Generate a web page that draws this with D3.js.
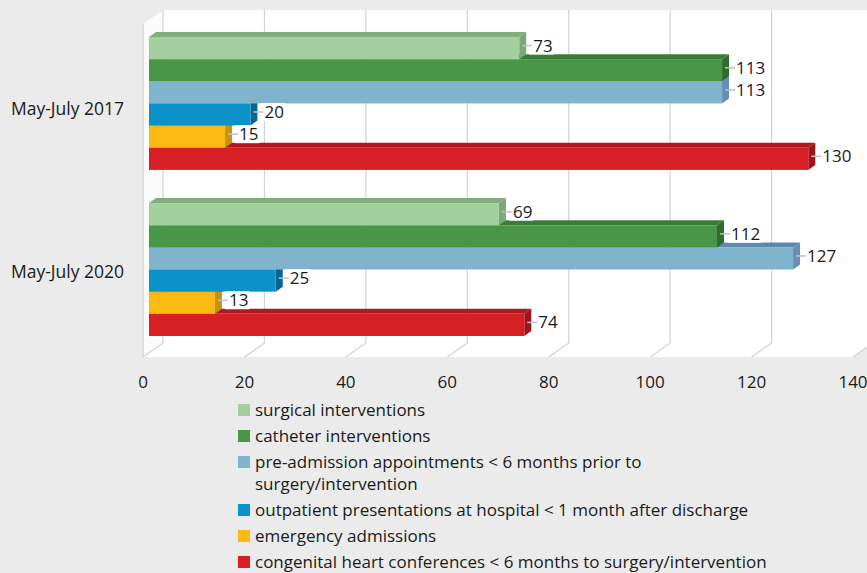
<!DOCTYPE html>
<html lang="en">
<head>
<meta charset="UTF-8">
<title>Interventions 2017 vs 2020</title>
<script src="https://d3js.org/d3.v7.min.js"></script>
<style>
  body { margin: 0; background: #ebebeb; }
  svg { display: block; font-family: "Open Sans", sans-serif; }
  .tick-label, .val-label, .legend-text { fill: #1a1a1a; font-size: 17px; }
  .cat-label { fill: #1a1a1a; font-size: 17.5px; }
</style>
</head>
<body>
<div id="chart"></div>
<script>
// periods (top to bottom)
const periods = ["May-July 2017", "May-July 2020"];

// series, in drawing order inside a group (top to bottom)
const seriesNames = [
  "surgical interventions",
  "catheter interventions",
  "pre-admission appointments < 6 months prior to surgery/intervention",
  "outpatient presentations at hospital < 1 month after discharge",
  "emergency admissions",
  "congenital heart conferences < 6 months to surgery/intervention"
];

// values per series: [2017, 2020]
const surgical = [73, 69];
const catheter = [113, 112];
const preAdmission = [113, 127];
const outpatient = [20, 25];
const emergency = [15, 13];
const conferences = [130, 74];

const xTicks = [0, 20, 40, 60, 80, 100, 120, 140];

// legend lines (the long one wraps)
const legendLines = [
  ["surgical interventions"],
  ["catheter interventions"],
  ["pre-admission appointments < 6 months prior to", "surgery/intervention"],
  ["outpatient presentations at hospital < 1 month after discharge"],
  ["emergency admissions"],
  ["congenital heart conferences < 6 months to surgery/intervention"]
];

const colors = {
  front: ["#a3cf9f", "#4a9648", "#80b4cd", "#0b92c9", "#fdb913", "#d71f26"],
  top:   ["#80ad7c", "#3a7c38", "#5f88ae", "#0a6e9c", "#d69c10", "#b0191f"],
  side:  ["#7aa876", "#2f6c2e", "#6a8db2", "#096693", "#c8920e", "#9f141a"]
};

const allValues = [surgical, catheter, preAdmission, outpatient, emergency, conferences];

const data = [];
periods.forEach((p, pi) => {
  seriesNames.forEach((s, si) => {
    data.push({ period: p, series: s, si: si, value: allValues[si][pi] });
  });
});

const width = 867, height = 573;
const depthX = 20, depthY = -14;     // floor depth offset (front -> back)
const barDX = 7, barDY = -5;         // bar depth
const barShift = 6;                  // bars sit a little back from the front edge
const floorFront = 357, wallTop = 10;

const svg = d3.select('#chart').append('svg')
  .attr('width', width).attr('height', height);

svg.append('rect').attr('width', width).attr('height', height).attr('fill', '#ebebeb');

// front-plane scale
const x = d3.scaleLinear().domain([0, 140]).range([143, 853]);

const y = d3.scaleBand().domain(periods).range([20.4, 352.6]).paddingInner(0.2).paddingOuter(0.1);
const ySeries = d3.scaleBand().domain(seriesNames).range([0, y.bandwidth()]);

// back wall
svg.append('rect')
  .attr('x', x(0) + depthX).attr('y', wallTop)
  .attr('width', width - x(0) - depthX).attr('height', floorFront + depthY - wallTop)
  .attr('fill', '#ffffff');

// left wall
svg.append('polygon')
  .attr('points', [[x(0), wallTop - depthY], [x(0) + depthX, wallTop],
    [x(0) + depthX, floorFront + depthY], [x(0), floorFront]].join(' '))
  .attr('fill', '#fbfbfb');

// floor
svg.append('polygon')
  .attr('points', [[x(0), floorFront], [x(0) + depthX, floorFront + depthY],
    [x(140) + depthX, floorFront + depthY], [x(140), floorFront]].join(' '))
  .attr('fill', '#ffffff');

// gridlines on back wall and floor
const grid = svg.append('g').attr('stroke', '#d2d2d2').attr('stroke-width', 1.2).attr('fill', 'none');
xTicks.forEach(t => {
  grid.append('line')
    .attr('x1', x(t) + depthX).attr('x2', x(t) + depthX)
    .attr('y1', wallTop).attr('y2', floorFront + depthY);
  grid.append('line')
    .attr('x1', x(t) + depthX).attr('y1', floorFront + depthY)
    .attr('x2', x(t)).attr('y2', floorFront);
});
grid.append('line')
  .attr('x1', x(0)).attr('x2', x(0))
  .attr('y1', wallTop - depthY).attr('y2', floorFront);

// axis labels
svg.append('g').selectAll('text').data(xTicks).enter().append('text')
  .attr('class', 'tick-label')
  .attr('x', d => x(d)).attr('y', 388)
  .attr('text-anchor', 'middle')
  .text(d => d);

// category labels
svg.append('g').selectAll('text').data(periods).enter().append('text')
  .attr('class', 'cat-label')
  .attr('x', 124).attr('y', (d, i) => y(d) + y.bandwidth() / 2 + (i === 0 ? 12 : 8))
  .attr('text-anchor', 'end')
  .text(d => d);

// bars: draw lower bars first so upper bars cover their top faces
const bx = v => x(v) + barShift;
const barData = data.slice().sort((a, b) => b.si - a.si);

const bars = svg.append('g').selectAll('g').data(barData).enter().append('g');

bars.append('polygon')   // top face
  .attr('points', d => {
    const y0 = y(d.period) + ySeries(d.series);
    return [[bx(0), y0], [bx(0) + barDX, y0 + barDY], [bx(d.value) + barDX, y0 + barDY], [bx(d.value), y0]].join(' ');
  })
  .attr('fill', d => colors.top[d.si]);

bars.append('polygon')   // side face
  .attr('points', d => {
    const y0 = y(d.period) + ySeries(d.series);
    const y1 = y0 + ySeries.bandwidth();
    return [[bx(d.value), y0], [bx(d.value) + barDX, y0 + barDY], [bx(d.value) + barDX, y1 + barDY], [bx(d.value), y1]].join(' ');
  })
  .attr('fill', d => colors.side[d.si]);

bars.append('rect')      // front face
  .attr('x', bx(0))
  .attr('y', d => y(d.period) + ySeries(d.series))
  .attr('width', d => bx(d.value) - bx(0))
  .attr('height', ySeries.bandwidth())
  .attr('fill', d => colors.front[d.si]);

// value labels with short leader lines
const labels = svg.append('g').selectAll('g').data(data).enter().append('g')
  .attr('transform', d => {
    const cy = y(d.period) + ySeries(d.series) + ySeries.bandwidth() / 2 + barDY / 2;
    return `translate(${bx(d.value)},${cy})`;
  });

labels.append('rect')
  .attr('x', barDX + 3).attr('y', -9)
  .attr('width', d => String(d.value).length * 9.8 + 5).attr('height', 18)
  .attr('fill', '#ffffff');

labels.append('line')
  .attr('x1', 3).attr('x2', 13).attr('y1', 0).attr('y2', 0)
  .attr('stroke', '#b8c4cc').attr('stroke-width', 1.5);

labels.append('text')
  .attr('class', 'val-label')
  .attr('x', 14).attr('y', 6)
  .text(d => d.value);

// legend
const legend = svg.append('g');
let ly = 410;
legendLines.forEach((lines, i) => {
  legend.append('rect')
    .attr('x', 238).attr('y', ly - 6).attr('width', 12).attr('height', 12)
    .attr('fill', colors.front[i]);
  lines.forEach((t, j) => {
    legend.append('text')
      .attr('class', 'legend-text')
      .attr('x', 255).attr('y', ly + 6 + j * 22)
      .text(t);
  });
  ly += 26 + (lines.length - 1) * 22;
});
</script>
</body>
</html>
